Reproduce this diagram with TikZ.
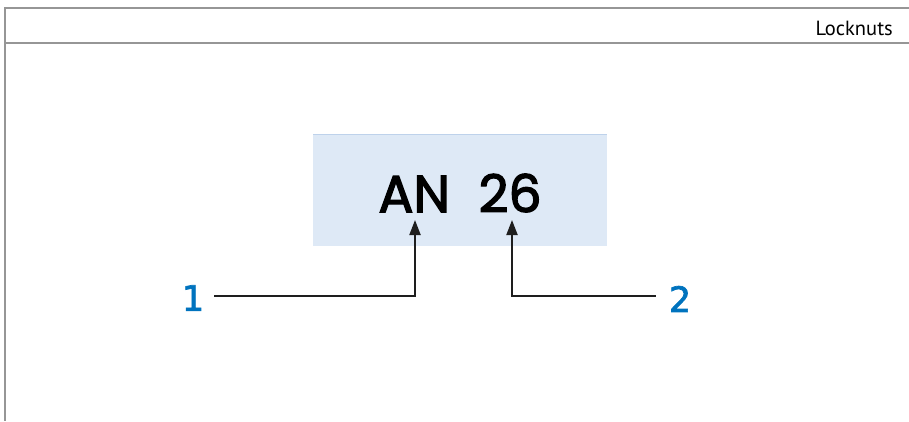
\documentclass[tikz,border=0pt]{standalone}
\usepackage{fontspec}
\setmainfont{DejaVu Sans}
\newfontfamily\codefont[FakeBold=2.5]{Poppins}
\newfontfamily\headfont{PT Sans}
\newfontfamily\numfont[FakeBold=2]{DejaVu Sans}
\usetikzlibrary{arrows.meta}
\definecolor{frame}{RGB}{150,150,150}
\definecolor{boxfill}{RGB}{222,233,246}
\definecolor{boxtop}{RGB}{190,210,235}
\definecolor{numblue}{RGB}{0,115,190}
\definecolor{lead}{RGB}{30,30,30}
\tikzset{
  frameline/.style={draw=frame, line width=1.2pt},
  leader/.style={draw=lead, line width=2pt, -{Triangle[length=15pt,width=11pt]}},
  callout/.style={text=numblue, font=\numfont\fontsize{35}{37}\selectfont, inner sep=0pt, anchor=center},
}
\begin{document}
\begin{tikzpicture}[x=1pt,y=-1pt]
\useasboundingbox (0,0) rectangle (909,421);
% frame
\coordinate (tl) at (5,8);
\coordinate (tr) at (909,8);
\coordinate (bl) at (5,421);
\coordinate (ml) at (5,43);
\coordinate (mr) at (909,43);
\draw[frameline] (tr) -- (tl) -- (bl);
\draw[frameline] (ml) -- (mr);
\node[anchor=east, inner sep=0pt, font=\headfont\fontsize{20.5}{22}\selectfont] (title) at (893,28) {Locknuts};
% designation box
\fill[boxfill] (313,134) rectangle (607,246);
\draw[boxtop, line width=0.8pt] (313,134) -- (607,134);
\node[inner sep=0pt, font=\codefont\fontsize{52}{55}\selectfont] (code) at (460,193) {AN\hspace{0.55em}26};
\coordinate (tipA) at (415,220);
\coordinate (tipB) at (512,220);
% callouts
\node[callout] (n1) at (193,298) {1};
\node[callout] (n2) at (680,299) {2};
\coordinate (c1) at (415,296);
\coordinate (c2) at (512,296);
\draw[leader] (n1.east) ++(10,-2) -- (c1) -- (tipA);
\draw[leader] (n2.west) ++(-13,-3) -- (c2) -- (tipB);
\end{tikzpicture}
\end{document}
